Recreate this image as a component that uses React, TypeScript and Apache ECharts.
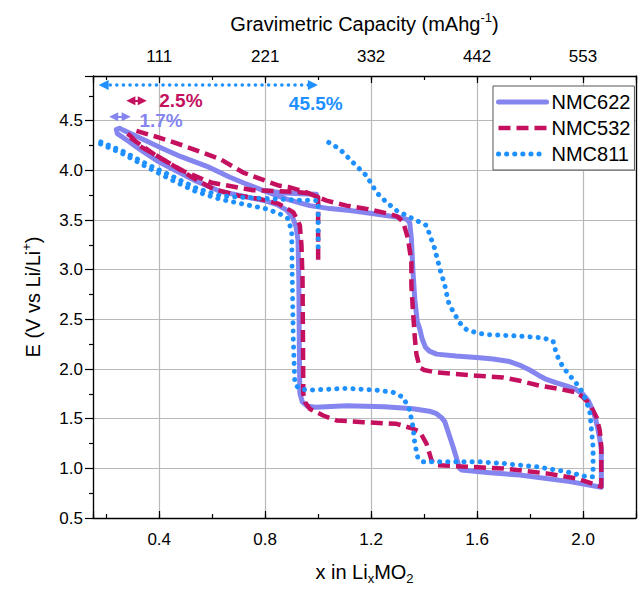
import React, { useEffect, useRef } from 'react';
import * as echarts from 'echarts';

// ---- axis ticks / labels ----
const xTicks = [0.4, 0.8, 1.2, 1.6, 2.0];
const xTickLabels = ['0.4', '0.8', '1.2', '1.6', '2.0'];
const capacityLabels = ['111', '221', '332', '442', '553'];
const yTicks = [0.5, 1.0, 1.5, 2.0, 2.5, 3.0, 3.5, 4.0, 4.5];
const yTickLabels = ['0.5', '1.0', '1.5', '2.0', '2.5', '3.0', '3.5', '4.0', '4.5'];

const seriesNames = ['NMC622', 'NMC532', 'NMC811'];

// ---- series values: [x in LixMO2, E (V)] ----
const nmc622: [number, number][] = [
  [0.994, 3.76], [0.93, 3.765], [0.86, 3.775], [0.79, 3.8],
  [0.717, 3.875], [0.667, 3.93], [0.59, 4.03], [0.48, 4.14], [0.4, 4.235], [0.32, 4.335], [0.264, 4.405],
  [0.25, 4.425], [0.238, 4.41], [0.242, 4.37],
  [0.28, 4.3], [0.327, 4.21], [0.39, 4.1], [0.453, 4.01], [0.54, 3.89], [0.629, 3.79], [0.716, 3.74],
  [0.805, 3.69], [0.845, 3.655], [0.881, 3.6], [0.903, 3.53], [0.916, 3.44], [0.924, 3.3], [0.927, 2.91],
  [0.929, 2.2], [0.931, 1.76], [0.94, 1.67], [0.96, 1.625], [0.99, 1.615], [1.107, 1.63], [1.25, 1.62],
  [1.358, 1.6], [1.42, 1.575], [1.447, 1.55], [1.466, 1.51], [1.478, 1.47], [1.509, 1.22], [1.534, 1.0],
  [1.541, 0.983], [1.65, 0.955], [1.761, 0.933], [1.95, 0.866], [2.069, 0.81],
  [2.069, 1.19], [2.063, 1.3], [2.057, 1.383], [2.048, 1.49], [2.038, 1.58], [2.02, 1.68], [2.0, 1.745],
  [1.97, 1.8], [1.937, 1.83], [1.9, 1.86], [1.862, 1.895], [1.83, 1.94], [1.799, 1.99], [1.76, 2.04],
  [1.723, 2.075], [1.66, 2.1], [1.61, 2.114], [1.52, 2.13], [1.447, 2.15], [1.42, 2.18], [1.405, 2.22],
  [1.393, 2.3], [1.384, 2.4], [1.374, 2.48], [1.365, 2.7], [1.358, 2.98], [1.352, 3.31], [1.346, 3.47],
  [1.336, 3.505], [1.32, 3.52], [1.296, 3.53], [1.17, 3.579], [1.12, 3.595], [1.044, 3.615], [0.969, 3.645],
  [0.92, 3.68], [0.881, 3.71], [0.84, 3.75], [0.79, 3.8],
];

const nmc532: [number, number][] = [
  [1.0, 3.1], [1.0, 3.73], [0.97, 3.765], [0.93, 3.78], [0.85, 3.79], [0.754, 3.8], [0.692, 3.83],
  [0.6, 3.875], [0.579, 3.895], [0.491, 3.994], [0.39, 4.144], [0.283, 4.344], [0.278, 4.37],
  [0.29, 4.35], [0.327, 4.244], [0.415, 4.111], [0.516, 3.944], [0.604, 3.812], [0.7, 3.745], [0.78, 3.712],
  [0.85, 3.665], [0.906, 3.579], [0.922, 3.5], [0.931, 3.445], [0.937, 3.246], [0.941, 2.913], [0.943, 2.2],
  [0.944, 1.75], [0.952, 1.66], [0.969, 1.598], [1.019, 1.532], [1.069, 1.482], [1.17, 1.465], [1.296, 1.448],
  [1.358, 1.399], [1.384, 1.366], [1.409, 1.249], [1.428, 1.083], [1.437, 1.045], [1.447, 1.033], [1.56, 1.016],
  [1.698, 0.999], [1.862, 0.949], [1.975, 0.899], [2.069, 0.816],
  [2.069, 1.016], [2.069, 1.216], [2.063, 1.383], [2.051, 1.515], [2.025, 1.648], [2.0, 1.715], [1.975, 1.765],
  [1.912, 1.798], [1.837, 1.832], [1.761, 1.882], [1.698, 1.915], [1.598, 1.932], [1.447, 1.965], [1.4, 1.99],
  [1.384, 2.015], [1.371, 2.147], [1.365, 2.314], [1.358, 2.581], [1.352, 2.846], [1.352, 3.08], [1.339, 3.313],
  [1.321, 3.479], [1.3, 3.535], [1.27, 3.562], [1.183, 3.612], [1.107, 3.645], [1.032, 3.695], [1.0, 3.729],
  [0.956, 3.779], [0.893, 3.829], [0.855, 3.845], [0.818, 3.879], [0.717, 3.978], [0.629, 4.115], [0.49, 4.25],
  [0.4, 4.33], [0.31, 4.4],
];

const nmc811: [number, number][] = [
  [1.0, 3.23], [1.0, 3.695], [0.96, 3.7], [0.931, 3.7], [0.855, 3.71], [0.78, 3.72], [0.7, 3.73], [0.629, 3.745],
  [0.541, 3.82], [0.453, 3.935], [0.352, 4.065], [0.264, 4.19], [0.176, 4.29], [0.165, 4.285],
  [0.176, 4.27], [0.264, 4.165], [0.352, 4.035], [0.453, 3.895], [0.541, 3.785], [0.629, 3.71], [0.7, 3.67],
  [0.805, 3.612], [0.855, 3.562], [0.887, 3.512], [0.9, 3.379], [0.902, 2.946], [0.906, 2.3], [0.912, 1.848],
  [0.93, 1.8], [0.969, 1.788], [1.107, 1.805], [1.22, 1.788], [1.283, 1.765], [1.321, 1.715], [1.346, 1.582],
  [1.358, 1.416], [1.365, 1.249], [1.377, 1.099], [1.396, 1.066], [1.485, 1.066], [1.61, 1.066], [1.698, 1.049],
  [1.824, 1.016], [1.937, 0.966], [2.013, 0.916], [2.038, 0.916],
  [2.038, 1.049], [2.038, 1.216], [2.032, 1.383], [2.025, 1.582], [2.006, 1.715], [1.987, 1.815], [1.956, 1.915],
  [1.925, 2.015], [1.9, 2.147], [1.887, 2.281], [1.849, 2.314], [1.761, 2.331], [1.635, 2.347], [1.598, 2.364],
  [1.56, 2.397], [1.535, 2.464], [1.509, 2.581], [1.491, 2.681], [1.478, 2.846], [1.459, 3.013], [1.44, 3.213],
  [1.422, 3.346], [1.409, 3.445], [1.371, 3.495], [1.334, 3.545], [1.296, 3.595], [1.258, 3.679], [1.22, 3.779],
  [1.183, 3.945], [1.132, 4.078], [1.082, 4.213], [1.032, 4.294], [1.02, 4.31],
];

// ---- annotations (data coordinates) ----
const annotationTexts = ['1.7%', '2.5%', '45.5%'];
const annotationArrows: [number, number][][] = [
  [[0.228, 4.54], [0.275, 4.54]],
  [[0.293, 4.7], [0.336, 4.7]],
  [[0.19, 4.86], [0.98, 4.86]],
];
const annotationTextAt: [number, number][] = [[0.325, 4.5], [0.4, 4.7], [0.991, 4.67]];

const FONT = 'Liberation Sans, Arial, sans-serif';
const COLORS = ['#8585f0', '#c4105e', '#1e90ff'];

function tickLabel(ticks: number[], labels: string[]) {
  return (v: number) => {
    const i = ticks.findIndex((t) => Math.abs(t - v) < 1e-6);
    return i >= 0 ? labels[i] : '';
  };
}

const axisLineStyle = { color: '#000', width: 1.3 };
const tickStyle = { color: '#000', width: 1.2 };
const gridLineStyle = { color: '#b9b9b9', width: 1.2 };

const richBase = { fontSize: 20, fontFamily: FONT, color: '#000' };
const richSup = { fontSize: 13, fontFamily: FONT, color: '#000', padding: [0, 0, 12, 0] };
const richSub = { fontSize: 13, fontFamily: FONT, color: '#000', padding: [14, 0, 0, 0] };

function buildOption() {
  const lineStyles = [
    { color: COLORS[0], width: 5, cap: 'round', join: 'round' },
    { color: COLORS[1], width: 4.5, type: [12, 6], join: 'round' },
    { color: COLORS[2], width: 5, type: [0.1, 8], cap: 'round', join: 'round' },
  ];
  const datasets = [nmc622, nmc532, nmc811];
  const lineSeries = seriesNames.map((name, i) => ({
    name,
    type: 'line',
    data: datasets[i],
    showSymbol: false,
    symbol: 'none',
    z: 2 + i,
    lineStyle: lineStyles[i],
    itemStyle: { color: COLORS[i] },
  }));

  const annSeries = annotationTexts.map((txt, i) => {
    const dotted = i === 2;
    return {
      name: 'annotation-' + i,
      type: 'scatter',
      silent: true,
      symbolSize: 0.1,
      itemStyle: { color: COLORS[i], opacity: 0 },
      z: 6,
      data: [
        {
          value: annotationTextAt[i],
          label: {
            show: true,
            formatter: txt,
            position: dotted ? 'inside' : 'right',
            distance: 0,
            color: COLORS[i],
            opacity: 1,
            textBorderWidth: 0,
            fontSize: 19,
            lineHeight: 15,
            fontWeight: 'bold',
            fontFamily: FONT,
          },
        },
      ],
      markLine: {
        silent: true,
        symbol: ['triangle', 'triangle'],
        symbolSize: dotted ? [10, 10] : [9, 9],
        label: { show: false },
        lineStyle: dotted
          ? { color: COLORS[i], width: 3.5, type: [0.1, 6.5], cap: 'round', opacity: 1 }
          : { color: COLORS[i], width: 2, type: 'solid', opacity: 1 },
        itemStyle: { color: COLORS[i], opacity: 1 },
        emphasis: { disabled: true },
        data: [[{ coord: annotationArrows[i][0] }, { coord: annotationArrows[i][1] }]],
      },
    };
  });

  return {
    animation: false,
    backgroundColor: '#fff',
    textStyle: { fontFamily: FONT },
    grid: { left: 93, right: 7, top: 76, bottom: 68, containLabel: false },
    legend: {
      data: seriesNames.map((name, i) => ({
        name,
        itemStyle: { opacity: 0 },
        lineStyle: { ...lineStyles[i], width: i === 1 ? 4.5 : 5, opacity: 1 },
      })),
      orient: 'vertical',
      left: 493,
      top: 86,
      itemWidth: 48,
      itemHeight: 14,
      itemGap: 6,
      padding: [6, 4, 6, 3],
      borderColor: '#555',
      borderWidth: 1,
      borderRadius: 0,
      backgroundColor: '#fff',
      selectedMode: false,
      itemStyle: { opacity: 0 },
      textStyle: { fontSize: 20, fontFamily: FONT, color: '#000' },
    },
    xAxis: [
      {
        type: 'value', position: 'bottom', min: 0.15, max: 2.2, minInterval: 0.4, maxInterval: 0.4,
        axisLine: { show: true, onZero: false, lineStyle: axisLineStyle },
        axisTick: { show: true, inside: true, length: 7, lineStyle: tickStyle },
        axisLabel: { fontSize: 17, color: '#000', fontFamily: FONT, margin: 13, formatter: tickLabel(xTicks, xTickLabels) },
        splitLine: { show: true, lineStyle: gridLineStyle },
        name: '{a|x in Li}{sub|x}{a|MO}{sub|2}',
        nameLocation: 'middle',
        nameGap: 40,
        nameTextStyle: { ...richBase, rich: { a: richBase, sub: richSub } },
      },
      {
        type: 'value', position: 'bottom', min: 0.15, max: 2.2, minInterval: 0.2, maxInterval: 0.2,
        axisLine: { show: false, onZero: false },
        axisTick: { show: true, inside: true, length: 4, lineStyle: tickStyle },
        axisLabel: { show: false },
        splitLine: { show: false },
      },
      {
        type: 'value', position: 'top', min: 0.15, max: 2.2, minInterval: 0.4, maxInterval: 0.4,
        axisLine: { show: true, onZero: false, lineStyle: axisLineStyle },
        axisTick: { show: true, inside: true, length: 7, lineStyle: tickStyle },
        axisLabel: { fontSize: 17, color: '#000', fontFamily: FONT, margin: 11, formatter: tickLabel(xTicks, capacityLabels) },
        splitLine: { show: false },
        name: '{a|Gravimetric Capacity (mAhg}{sup|-1}{a|)}',
        nameLocation: 'middle',
        nameGap: 40,
        nameTextStyle: { ...richBase, rich: { a: richBase, sup: richSup } },
      },
      {
        type: 'value', position: 'top', min: 0.15, max: 2.2, minInterval: 0.2, maxInterval: 0.2,
        axisLine: { show: false, onZero: false },
        axisTick: { show: true, inside: true, length: 4, lineStyle: tickStyle },
        axisLabel: { show: false },
        splitLine: { show: false },
      },
    ],
    yAxis: [
      {
        type: 'value', position: 'left', min: 0.5, max: 4.95, interval: 0.5,
        axisLine: { show: true, onZero: false, lineStyle: axisLineStyle },
        axisTick: { show: true, inside: false, length: 8, lineStyle: tickStyle },
        minorTick: { show: true, splitNumber: 2, length: 4, lineStyle: tickStyle },
        axisLabel: { fontSize: 17, color: '#000', fontFamily: FONT, margin: 10, formatter: tickLabel(yTicks, yTickLabels) },
        splitLine: { show: true, lineStyle: gridLineStyle },
        name: '{a|E (V vs Li/Li}{sup|+}{a|)}',
        nameLocation: 'middle',
        nameGap: 48,
        nameTextStyle: { ...richBase, rich: { a: richBase, sup: richSup } },
      },
      {
        type: 'value', position: 'right', min: 0.5, max: 4.95, interval: 0.5,
        axisLine: { show: true, onZero: false, lineStyle: axisLineStyle },
        axisTick: { show: false },
        axisLabel: { show: false },
        splitLine: { show: false },
      },
    ],
    series: [...lineSeries, ...annSeries],
  };
}

export default function App() {
  const ref = useRef<HTMLDivElement>(null);
  useEffect(() => {
    document.body.style.margin = '0';
    if (!ref.current) return;
    const chart = echarts.init(ref.current, null, { renderer: 'svg' });
    chart.setOption(buildOption() as any);
    return () => chart.dispose();
  }, []);
  return <div ref={ref} style={{ width: 643, height: 590 }} />;
}
